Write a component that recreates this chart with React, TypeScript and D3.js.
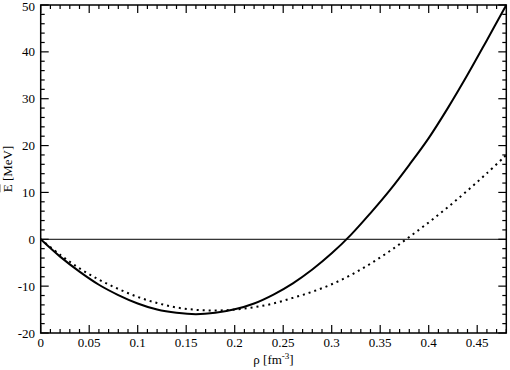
import React from 'react';
import * as d3 from 'd3';

// density grid (fm^-3)
const rho = [0, 0.02, 0.04, 0.06, 0.08, 0.1, 0.12, 0.14, 0.16, 0.18, 0.2, 0.22, 0.24,
  0.26, 0.28, 0.3, 0.32, 0.34, 0.36, 0.38, 0.4, 0.42, 0.44, 0.46, 0.48];

// energy per nucleon, solid curve (MeV)
const energySolid = [0, -3.7, -6.9, -9.7, -11.9, -13.7, -15.0, -15.7, -16.0, -15.7, -14.95,
  -13.7, -11.8, -9.4, -6.45, -3.0, 1.0, 5.6, 10.5, 15.9, 21.6, 28.1, 35.1, 42.5, 50];

// energy per nucleon, dotted curve (MeV)
const energyDotted = [0, -3.3, -6.2, -8.6, -10.6, -12.3, -13.6, -14.55, -15.05, -15.2, -15.0,
  -14.5, -13.7, -12.5, -11.2, -9.6, -7.6, -5.2, -2.5, 0.5, 3.6, 6.9, 10.4, 14.1, 18.0];

const xTicks = [0, 0.05, 0.1, 0.15, 0.2, 0.25, 0.3, 0.35, 0.4, 0.45];
const xTickLabels = ['0', '0.05', '0.1', '0.15', '0.2', '0.25', '0.3', '0.35', '0.4', '0.45'];
const yTicks = [-20, -10, 0, 10, 20, 30, 40, 50];

const W = 510;
const H = 370;
const left = 40.7;
const right = 506.3;
const top = 5;
const bottom = 333;
const fontFamily = 'Liberation Serif, DejaVu Serif';

const App = () => {
  const x = d3.scaleLinear().domain([0, 0.48]).range([left, right]);
  const y = d3.scaleLinear().domain([-20, 50]).range([bottom, top]);

  const line = d3.line<number>()
    .x((_, i) => x(rho[i]))
    .curve(d3.curveCatmullRom);

  const solidPath = line.y(d => y(d))(energySolid) || '';
  const dottedPath = line.y(d => y(d))(energyDotted) || '';

  const xMinor = d3.range(0, 49).map(i => i / 100).filter(v => Math.round(v * 100) % 5 !== 0);
  const yMinor = d3.range(-20, 51, 2).filter(v => v % 10 !== 0);

  const major = 8;
  const minor = 4;

  return (
    <div style={{ position: 'absolute', left: 0, top: 0 }}>
      <svg width={W} height={H} style={{ display: 'block', background: '#fff' }}
        fontFamily={fontFamily}>
        {/* zero line */}
        <line x1={x(0)} x2={x(0.48)} y1={y(0)} y2={y(0)} stroke="#000" strokeWidth={1} />

        <path d={dottedPath} fill="none" stroke="#000" strokeWidth={2} strokeDasharray="2,4" />
        <path d={solidPath} fill="none" stroke="#000" strokeWidth={2} />

        {/* frame */}
        <rect x={left} y={top} width={right - left} height={bottom - top}
          fill="none" stroke="#000" strokeWidth={1.5} />

        {/* x ticks, bottom and top */}
        {xTicks.map(t => (
          <g key={'xt' + t}>
            <line x1={x(t)} x2={x(t)} y1={bottom} y2={bottom - major} stroke="#000" strokeWidth={1.2} />
            <line x1={x(t)} x2={x(t)} y1={top} y2={top + major} stroke="#000" strokeWidth={1.2} />
          </g>
        ))}
        {xMinor.map(t => (
          <g key={'xm' + t}>
            <line x1={x(t)} x2={x(t)} y1={bottom} y2={bottom - minor} stroke="#000" strokeWidth={1.2} />
            <line x1={x(t)} x2={x(t)} y1={top} y2={top + minor} stroke="#000" strokeWidth={1.2} />
          </g>
        ))}

        {/* y ticks, left and right */}
        {yTicks.map(t => (
          <g key={'yt' + t}>
            <line x1={left} x2={left + major} y1={y(t)} y2={y(t)} stroke="#000" strokeWidth={1.2} />
            <line x1={right} x2={right - major} y1={y(t)} y2={y(t)} stroke="#000" strokeWidth={1.2} />
          </g>
        ))}
        {yMinor.map(t => (
          <g key={'ym' + t}>
            <line x1={left} x2={left + minor} y1={y(t)} y2={y(t)} stroke="#000" strokeWidth={1.2} />
            <line x1={right} x2={right - minor} y1={y(t)} y2={y(t)} stroke="#000" strokeWidth={1.2} />
          </g>
        ))}

        {/* tick labels */}
        {xTicks.map((t, i) => (
          <text key={'xl' + t} x={x(t)} y={347} textAnchor="middle" fontSize={13}>
            {xTickLabels[i]}
          </text>
        ))}
        {yTicks.map(t => (
          <text key={'yl' + t} x={35} y={Math.max(y(t) + 4.5, 10.5)} textAnchor="end" fontSize={13}>
            {t}
          </text>
        ))}

        {/* axis titles */}
        <text x={(left + right) / 2} y={364} textAnchor="middle" fontSize={13}>
          ρ [fm<tspan dy={-5} fontSize={9}>-3</tspan><tspan dy={5}>]</tspan>
        </text>
        <text transform={`translate(12,${(top + bottom) / 2}) rotate(-90)`} textAnchor="middle"
          fontSize={13}>
          <tspan style={{ textDecoration: 'overline' }}>E</tspan> [MeV]
        </text>
      </svg>
    </div>
  );
};

export default App;
